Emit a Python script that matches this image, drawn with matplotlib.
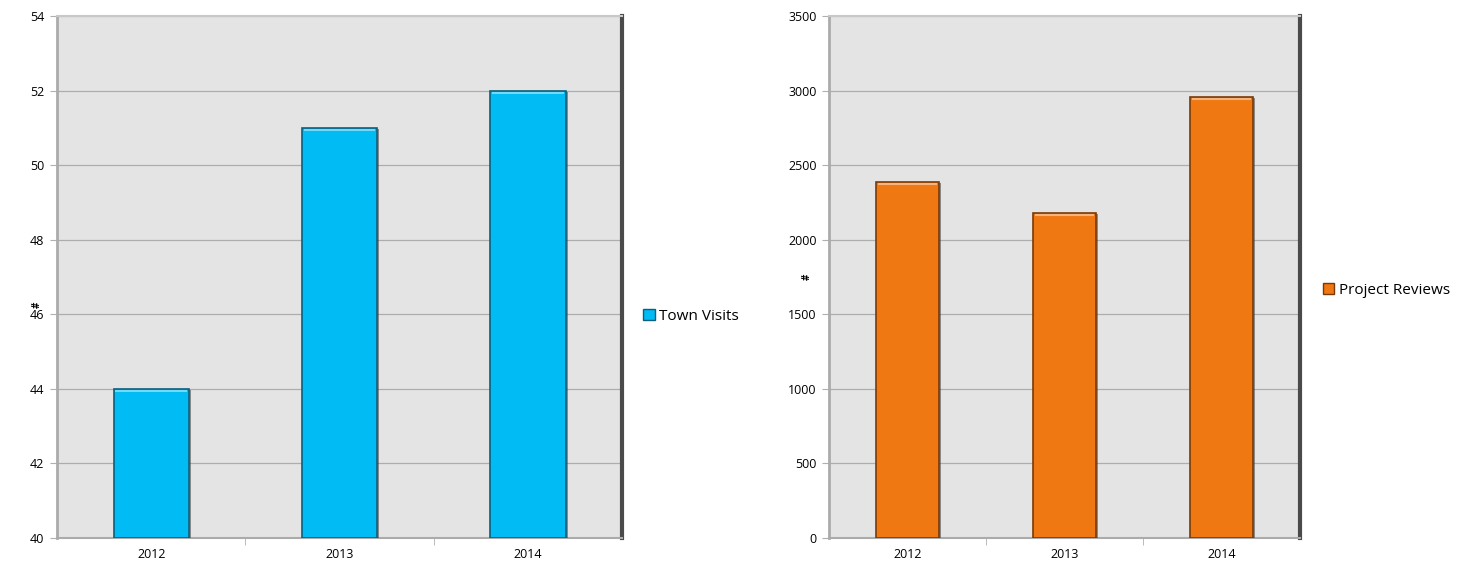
import matplotlib.pyplot as plt
import matplotlib.patheffects as pe
from matplotlib.patches import Patch
import numpy as np

plt.rcParams['font.family'] = ['Open Sans', 'DejaVu Sans']

years = ['2012', '2013', '2014']
town_visits = [44, 51, 52]
project_reviews = [2390, 2180, 2960]

fig = plt.figure(figsize=(14.66, 5.68), dpi=100)
ax1 = fig.add_axes([0.0389, 0.0528, 0.3854, 0.919])
ax2 = fig.add_axes([0.5655, 0.0528, 0.3213, 0.919])


def style_panel(ax, values, color, edge, ylim, step, label, legend_pos, ylabel_xy):
    x = np.arange(len(values))
    ax.set_facecolor('#e4e4e4')
    bars = ax.bar(x, np.array(values) - ylim[0], bottom=ylim[0], width=0.4,
                  color=color, edgecolor=edge, linewidth=1.2, zorder=3)
    for b in bars:
        b.set_path_effects([pe.SimplePatchShadow(offset=(1.5, -1), shadow_rgbFace='#303030', alpha=0.5),
                            pe.Normal()])
    # light bevel along the top of each bar
    ax.hlines(np.array(values) - (ylim[1] - ylim[0]) * 0.004, x - 0.19, x + 0.19,
              colors='white', alpha=0.45, linewidth=1.5, zorder=4)

    ax.set_xlim(-0.5, len(values) - 0.5)
    ax.set_ylim(*ylim)
    ax.set_yticks(np.arange(ylim[0], ylim[1] + step / 2, step))
    ax.set_xticks(x)
    ax.set_xticklabels(years)
    ax.set_xticks(np.arange(0.5, len(values) - 1, 1.0), minor=True)
    ax.tick_params(axis='x', which='major', length=0, labelsize=9, pad=7)
    ax.tick_params(axis='x', which='minor', length=5, color='#b0b0b0')
    ax.tick_params(axis='y', length=5, color='#b0b0b0', labelsize=9, pad=4)
    ax.grid(axis='y', color='#adadad', linewidth=0.9, zorder=1)
    ax.set_axisbelow(True)

    ax.spines['left'].set_color('#ababab')
    ax.spines['left'].set_linewidth(2)
    ax.spines['bottom'].set_color('#ababab')
    ax.spines['bottom'].set_linewidth(1.5)
    ax.spines['top'].set_color('#c8c8c8')
    ax.spines['top'].set_linewidth(1.5)
    ax.spines['right'].set_color('#4a4a4a')
    ax.spines['right'].set_linewidth(3)

    ax.set_ylabel('#', fontsize=7, fontweight='bold')
    ax.yaxis.set_label_coords(*ylabel_xy)
    handle = Patch(facecolor=color, edgecolor=edge, linewidth=1)
    ax.legend([handle], [label], loc='center left', bbox_to_anchor=legend_pos,
              frameon=False, fontsize=11, handlelength=0.75, handleheight=0.75,
              handletextpad=0.3, borderaxespad=0)


style_panel(ax1, town_visits, '#00bbf4', '#0c5f7c', (40, 54), 2, 'Town Visits', (1.027, 0.425), (-0.025, 0.446))
style_panel(ax2, project_reviews, '#f07812', '#7a3a08', (0, 3500), 500, 'Project Reviews', (1.035, 0.475), (-0.035, 0.5))

fig.savefig('out.png', dpi=100)
